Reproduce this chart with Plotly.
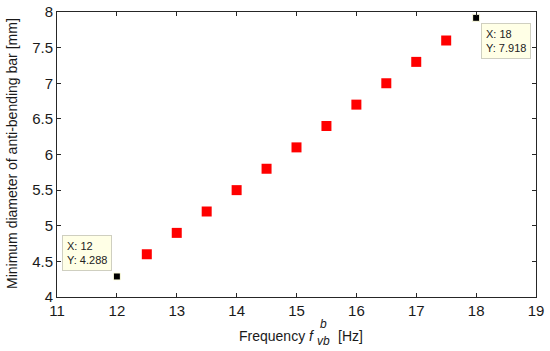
import plotly.graph_objects as go

freq_red = [12.5, 13, 13.5, 14, 14.5, 15, 15.5, 16, 16.5, 17, 17.5]
diam_red = [4.6, 4.9, 5.2, 5.5, 5.8, 6.1, 6.4, 6.7, 7.0, 7.3, 7.6]
freq_tip = [12, 18]
diam_tip = [4.288, 7.918]
x_ticks = [11, 12, 13, 14, 15, 16, 17, 18, 19]
y_ticks = [4, 4.5, 5, 5.5, 6, 6.5, 7, 7.5, 8]

FONT = "Liberation Sans, Arial, sans-serif"
TXT = "#1a1a1a"

# plot-area geometry in pixels (for placing title pieces)
W, H = 550, 351
L, R, T, B = 57, 14, 12, 54
PW, PH = W - L - R, H - T - B


def px_x(px):
    return (px - L) / PW


def px_y(py):
    return (H - B - py) / PH


fig = go.Figure()
fig.add_trace(go.Scatter(x=freq_red, y=diam_red, mode="markers",
                         marker=dict(symbol="square", size=10, color="#FF0000",
                                     line=dict(width=0)),
                         showlegend=False, hoverinfo="skip"))
fig.add_trace(go.Scatter(x=freq_tip, y=diam_tip, mode="markers",
                         marker=dict(symbol="square", size=7, color="#000000",
                                     line=dict(width=1, color="#FFFFE1")),
                         showlegend=False, hoverinfo="skip"))

shifts = [(-55, 41), (5, -5)]
for (fx, fy), (xs, ys) in zip(zip(freq_tip, diam_tip), shifts):
    fig.add_annotation(x=fx, y=fy, xref="x", yref="y", showarrow=False,
                       text=f"X: {fx:g}<br>Y: {fy:g}", align="left",
                       xanchor="left", yanchor="top", xshift=xs, yshift=ys,
                       font=dict(family=FONT, size=11, color="#222222"),
                       bgcolor="#FFFFE6", bordercolor="#CFCFC0", borderwidth=1,
                       borderpad=4)

# x-axis title pieces (stacked super/subscript)
common = dict(xref="paper", yref="paper", showarrow=False, yanchor="middle")
fig.add_annotation(x=px_x(317), y=px_y(336), xanchor="right",
                   text="Frequency <i>f</i>",
                   font=dict(family=FONT, size=14, color=TXT), **common)
fig.add_annotation(x=px_x(315), y=px_y(341), xanchor="left", text="<i>vb</i>",
                   font=dict(family=FONT, size=12, color=TXT), **common)
fig.add_annotation(x=px_x(318), y=px_y(324), xanchor="left", text="<i>b</i>",
                   font=dict(family=FONT, size=12, color=TXT), **common)
fig.add_annotation(x=px_x(336), y=px_y(336), xanchor="left", text="[Hz]",
                   font=dict(family=FONT, size=14, color=TXT), **common)

# y-axis title
fig.add_annotation(x=px_x(12), y=px_y(154), xanchor="center", textangle=-90,
                   text="Minimum diameter of anti-bending bar [mm]",
                   font=dict(family=FONT, size=14, color=TXT), **common)

axis_common = dict(showgrid=False, zeroline=False, showline=True, linecolor="#262626",
                   linewidth=1, mirror="ticks", ticks="inside", ticklen=4,
                   tickcolor="#262626", automargin=False,
                   tickfont=dict(family=FONT, size=15, color=TXT))

fig.update_xaxes(range=[11, 19], tickvals=x_ticks, ticktext=[f"{v:g}" for v in x_ticks],
                 **axis_common)
fig.update_yaxes(range=[4, 8], tickvals=y_ticks, ticktext=[f"{v:g}" for v in y_ticks],
                 **axis_common)

fig.update_layout(width=W, height=H, margin=dict(l=L, r=R, t=T, b=B),
                  paper_bgcolor="white", plot_bgcolor="white")

fig.write_html("out.html", config={"displayModeBar": False},
               post_script="document.body.style.margin='0';document.body.style.padding='0';")
